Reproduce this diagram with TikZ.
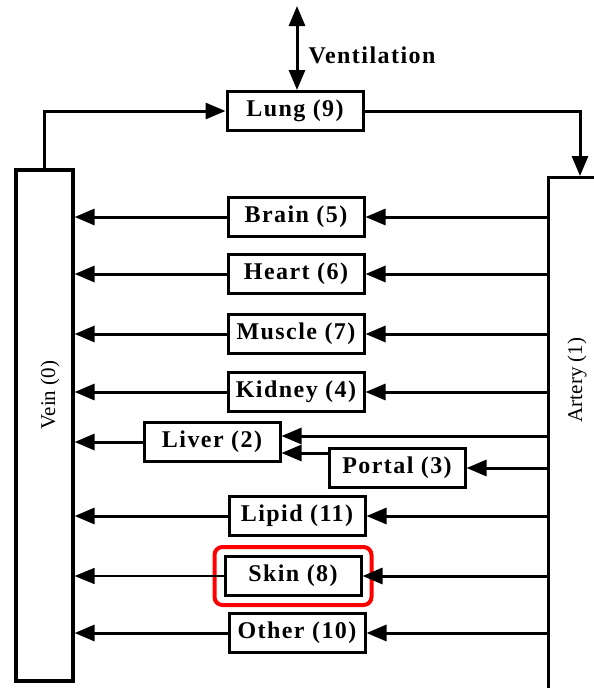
\documentclass[tikz,border=0pt]{standalone}
\usepackage{fontspec}
\setmainfont{Liberation Serif}
\newfontfamily\boxfont[LetterSpace=6]{Liberation Serif}
\usetikzlibrary{arrows.meta,positioning,fit}

\begin{document}
\begin{tikzpicture}[
  x=1pt, y=-1pt,
  >={Triangle[length=20pt,width=16pt]},
  organ/.style={
    draw,
    line width=3pt,
    fill=white,
    minimum width=136pt,
    minimum height=39pt,
    inner sep=0pt,
    font=\boxfont\bfseries\fontsize{24}{26}\selectfont
  },
  vessel/.style={
    draw,
    line width=3.2pt,
    fill=white,
    inner sep=0pt
  },
  vessellabel/.style={
    rotate=90,
    font=\fontsize{21}{24}\selectfont
  },
  flow/.style={
    ->,
    line width=3pt
  },
  highlight/.style={
    draw=red,
    line width=4pt,
    rounded corners=8pt,
    inner xsep=9pt,
    inner ysep=8pt
  }
]
\useasboundingbox (0,0) rectangle (594,688);
\clip (0,0) rectangle (594,688);

% Vessels
\node[vessel, minimum width=57pt, minimum height=511pt] (vein) at (44.5,425.5) {};
\node[vessellabel] (veinlabel) at (50,395) {Vein (0)};

\node[vessel, minimum width=80pt, minimum height=560pt, anchor=north west]
  (artery) at (547,176) {};
\node[vessellabel] (arterylabel) at (577,380) {Artery (1)};

% Compartments
\node[organ] (lung) at (295,111) {Lung (9)};
\node[organ] (brain) at (296,217) {Brain (5)};
\node[organ] (heart) at (296,274) {Heart (6)};
\node[organ] (muscle) at (296,334) {Muscle (7)};
\node[organ] (kidney) at (296,392) {Kidney (4)};
\node[organ] (liver) at (212,442) {Liver (2)};
\node[organ] (portal) at (397,468) {Portal (3)};
\node[organ] (lipid) at (297,516) {Lipid (11)};
\node[organ] (skin) at (293,576) {Skin (8)};
\node[organ] (other) at (297,633) {Other (10)};

\node[highlight, fit=(skin)] (skinmark) {};

% Ventilation
\coordinate (air) at (297,6);
\draw[flow, <->] (air) -- (air |- lung.north);
\node[anchor=west, font=\boxfont\bfseries\fontsize{24}{26}\selectfont]
  (ventlabel) at (305,55) {Ventilation};

% Lung loop
\draw[flow] (vein.north) |- (lung.west);
\draw[flow] (lung.east) -| ([xshift=33pt]artery.north west);

% Arterial supply and venous return
\foreach \o in {brain,heart,muscle,kidney,lipid,other} {
  \draw[flow] (\o.west) -- (vein.east |- \o.west);
  \draw[flow] (artery.west |- \o.east) -- (\o.east);
}

\draw[flow, line width=1.6pt] (skin.west) -- (vein.east |- skin.west);
\draw[flow] (artery.west |- skin.east) -- (skin.east);

\coordinate (liverhigh) at ([yshift=6pt]liver.east);
\coordinate (liverlow) at ([yshift=-11pt]liver.east);
\draw[flow] (liver.west) -- (vein.east |- liver.west);
\draw[flow] (artery.west |- liverhigh) -- (liverhigh);
\draw[flow] (portal.west |- liverlow) -- (liverlow);
\draw[flow] (artery.west |- portal.east) -- (portal.east);

\end{tikzpicture}
\end{document}
